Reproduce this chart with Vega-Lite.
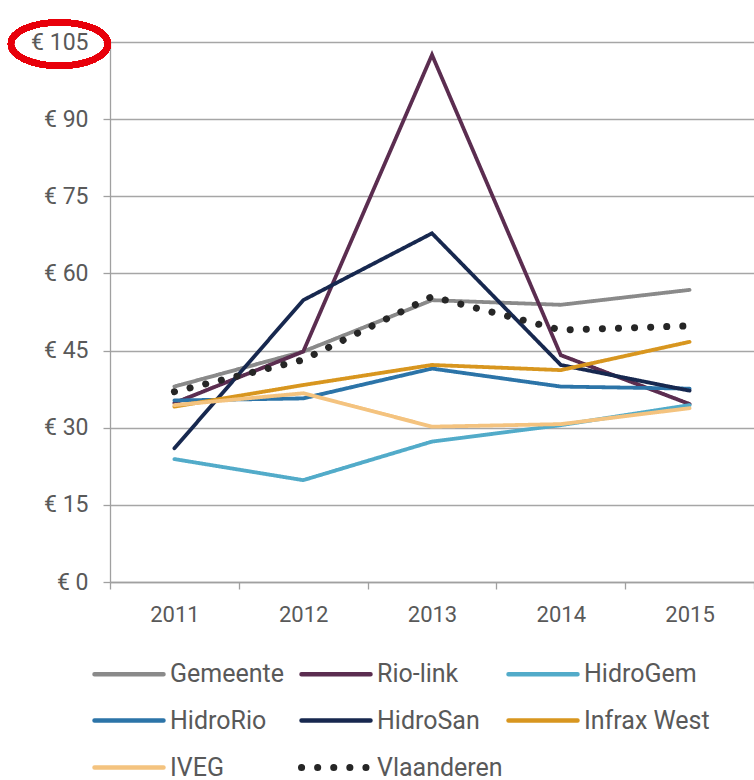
{
  "$schema": "https://vega.github.io/schema/vega-lite/v6.json",
  "width": 644,
  "height": 540,
  "autosize": {"type": "none"},
  "padding": {"left": 110, "top": 42, "right": 0, "bottom": 198},
  "background": "white",
  "config": {
    "view": {"stroke": null},
    "font": "Roboto",
    "axis": {"labelFont": "Roboto", "labelColor": "#595959", "labelFontSize": 22, "domainColor": "#a0a0a0", "tickColor": "#a0a0a0", "gridColor": "#a6a6a6", "domainWidth": 1.3, "tickWidth": 1.3, "gridWidth": 1.3, "tickSize": 7}
  },
  "data": {
    "values": [
      {"year": "2011", "series": "Gemeente", "value": 38.0},
      {"year": "2012", "series": "Gemeente", "value": 44.8},
      {"year": "2013", "series": "Gemeente", "value": 54.8},
      {"year": "2014", "series": "Gemeente", "value": 53.9},
      {"year": "2015", "series": "Gemeente", "value": 56.8},
      {"year": "2011", "series": "Rio-link", "value": 34.8},
      {"year": "2012", "series": "Rio-link", "value": 44.8},
      {"year": "2013", "series": "Rio-link", "value": 102.5},
      {"year": "2014", "series": "Rio-link", "value": 44.1},
      {"year": "2015", "series": "Rio-link", "value": 34.6},
      {"year": "2011", "series": "HidroGem", "value": 23.9},
      {"year": "2012", "series": "HidroGem", "value": 19.8},
      {"year": "2013", "series": "HidroGem", "value": 27.3},
      {"year": "2014", "series": "HidroGem", "value": 30.5},
      {"year": "2015", "series": "HidroGem", "value": 34.4},
      {"year": "2011", "series": "HidroRio", "value": 35.3},
      {"year": "2012", "series": "HidroRio", "value": 35.7},
      {"year": "2013", "series": "HidroRio", "value": 41.5},
      {"year": "2014", "series": "HidroRio", "value": 38.0},
      {"year": "2015", "series": "HidroRio", "value": 37.6},
      {"year": "2011", "series": "HidroSan", "value": 26.0},
      {"year": "2012", "series": "HidroSan", "value": 54.8},
      {"year": "2013", "series": "HidroSan", "value": 67.8},
      {"year": "2014", "series": "HidroSan", "value": 42.2},
      {"year": "2015", "series": "HidroSan", "value": 37.2},
      {"year": "2011", "series": "Infrax West", "value": 34.1},
      {"year": "2012", "series": "Infrax West", "value": 38.3},
      {"year": "2013", "series": "Infrax West", "value": 42.2},
      {"year": "2014", "series": "Infrax West", "value": 41.2},
      {"year": "2015", "series": "Infrax West", "value": 46.7},
      {"year": "2011", "series": "IVEG", "value": 34.4},
      {"year": "2012", "series": "IVEG", "value": 36.7},
      {"year": "2013", "series": "IVEG", "value": 30.2},
      {"year": "2014", "series": "IVEG", "value": 30.7},
      {"year": "2015", "series": "IVEG", "value": 33.8},
      {"year": "2011", "series": "Vlaanderen", "value": 37.0},
      {"year": "2012", "series": "Vlaanderen", "value": 43.2},
      {"year": "2013", "series": "Vlaanderen", "value": 55.5},
      {"year": "2014", "series": "Vlaanderen", "value": 49.0},
      {"year": "2015", "series": "Vlaanderen", "value": 49.8}
    ]
  },
  "layer": [
    {
      "mark": {"type": "line", "strokeCap": "round", "strokeJoin": "miter"},
      "encoding": {
        "x": {
          "field": "year", "type": "ordinal",
          "scale": {"type": "band", "paddingInner": 0, "paddingOuter": 0},
          "axis": {"title": null, "labelAngle": 0, "tickBand": "extent", "labelPadding": 15, "grid": false}
        },
        "y": {
          "field": "value", "type": "quantitative",
          "scale": {"domain": [0, 105], "nice": false},
          "axis": {"title": null, "values": [0, 15, 30, 45, 60, 75, 90, 105], "labelExpr": "'€ ' + datum.value", "labelPadding": 15, "labelFontSize": 23, "grid": true}
        },
        "color": {
          "field": "series", "type": "nominal",
          "scale": {
            "domain": ["Gemeente", "Rio-link", "HidroGem", "HidroRio", "HidroSan", "Infrax West", "IVEG", "Vlaanderen"],
            "range": ["#8a8a8a", "#5b2d50", "#52abc9", "#2c74a8", "#17284f", "#d8961f", "#f4c37f", "#262626"]
          },
          "legend": {
            "title": null, "orient": "none", "legendX": -13, "legendY": 619,
            "direction": "horizontal", "columns": 3, "gridAlign": "all",
            "columnPadding": -9, "rowPadding": 18,
            "symbolType": "M-1,0H3.6", "symbolSize": 900, "symbolStrokeWidth": 4.5,
            "labelFont": "Roboto", "labelFontSize": 25, "labelColor": "#595959", "labelOffset": 48, "labelLimit": 300,
            "encode": {"symbols": {"update": {"strokeCap": {"value": "round"}, "strokeWidth": {"signal": "datum.value === 'Vlaanderen' ? 7 : 4.5"}}}}
          }
        },
        "strokeDash": {
          "field": "series", "type": "nominal",
          "scale": {
            "domain": ["Gemeente", "Rio-link", "HidroGem", "HidroRio", "HidroSan", "Infrax West", "IVEG", "Vlaanderen"],
            "range": [[1, 0], [1, 0], [1, 0], [1, 0], [1, 0], [1, 0], [1, 0], [0.1, 16]]
          },
          "legend": null
        },
        "strokeWidth": {
          "condition": {"test": "datum.series === 'Vlaanderen'", "value": 7},
          "value": 3.8
        }
      }
    },
    {
      "mark": {"type": "point", "shape": "M-1,0A1,0.45 0 1,1 1,0A1,0.45 0 1,1 -1,0Z", "size": 9409, "filled": false, "stroke": "#e8000b", "strokeWidth": 6, "opacity": 1, "xOffset": -115, "yOffset": 2},
      "encoding": {
        "x": {"datum": "2011", "type": "ordinal"},
        "y": {"datum": 105, "type": "quantitative"}
      }
    }
  ]
}
